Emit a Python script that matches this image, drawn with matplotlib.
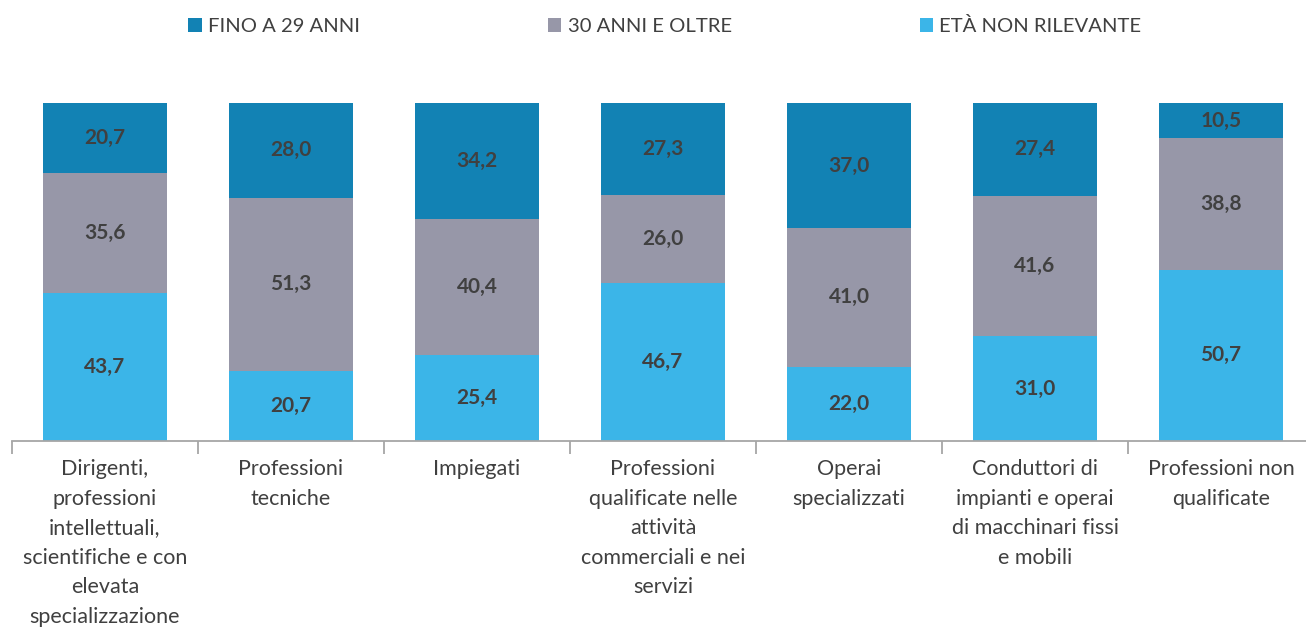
import matplotlib
matplotlib.use("Agg")
import matplotlib.pyplot as plt
from matplotlib.patches import Patch
import numpy as np

categories = [
    "Dirigenti,\nprofessioni\nintellettuali,\nscientifiche e con\nelevata\nspecializzazione",
    "Professioni\ntecniche",
    "Impiegati",
    "Professioni\nqualificate nelle\nattività\ncommerciali e nei\nservizi",
    "Operai\nspecializzati",
    "Conduttori di\nimpianti e operai\ndi macchinari fissi\ne mobili",
    "Professioni non\nqualificate",
]
series_names = ["FINO A 29 ANNI", "30 ANNI E OLTRE", "ETÀ NON RILEVANTE"]
fino_29 = [20.7, 28.0, 34.2, 27.3, 37.0, 27.4, 10.5]
oltre_30 = [35.6, 51.3, 40.4, 26.0, 41.0, 41.6, 38.8]
non_rilevante = [43.7, 20.7, 25.4, 46.7, 22.0, 31.0, 50.7]

colors = {"FINO A 29 ANNI": "#1282B4", "30 ANNI E OLTRE": "#9797A8", "ETÀ NON RILEVANTE": "#3BB5E8"}
text_color = "#404040"

plt.rcParams['font.family'] = ['Lato', 'DejaVu Sans']

fig = plt.figure(figsize=(13.06, 6.30), dpi=100)
ax = fig.add_axes([12/1306, 1-441/630, 1302/1306, (441-103)/630])

x = np.arange(len(categories))
width = 0.667
bottom = np.zeros(len(categories))
stack = [("ETÀ NON RILEVANTE", non_rilevante), ("30 ANNI E OLTRE", oltre_30), ("FINO A 29 ANNI", fino_29)]
for name, vals in stack:
    vals = np.array(vals)
    ax.bar(x, vals, width, bottom=bottom, color=colors[name], edgecolor='none', zorder=2)
    for xi, b, v in zip(x, bottom, vals):
        ax.text(xi, b + v/2, f"{v:.1f}".replace('.', ','), ha='center', va='center',
                fontsize=15, fontweight='bold', color=text_color, zorder=3)
    bottom += vals

total = bottom.max()
ax.set_ylim(0, total)
ax.set_xlim(-0.5, len(categories)-0.5)
for s in ['top', 'right', 'left']:
    ax.spines[s].set_visible(False)
ax.spines['bottom'].set_color('#A6A6A6')
ax.spines['bottom'].set_linewidth(1.3)
ax.set_yticks([])
ax.set_xticks(x)
ax.set_xticklabels(categories, fontsize=15.5, color=text_color, linespacing=1.6, va='top')
ax.tick_params(axis='x', which='major', length=0, pad=13)
ax.set_xticks(np.arange(-0.5, len(categories)), minor=True)
ax.tick_params(axis='x', which='minor', length=9, width=1.3, color='#A6A6A6')

handles = [Patch(facecolor=colors[n], edgecolor='none') for n in series_names]
leg = fig.legend(handles, series_names, loc='center', bbox_to_anchor=(665/1306, 1-26/630),
                 ncol=3, frameon=False, fontsize=14.6, handlelength=0.65, handleheight=0.65,
                 handletextpad=0.3, columnspacing=9.3, labelcolor=text_color)

fig.savefig("out.png", dpi=100)
